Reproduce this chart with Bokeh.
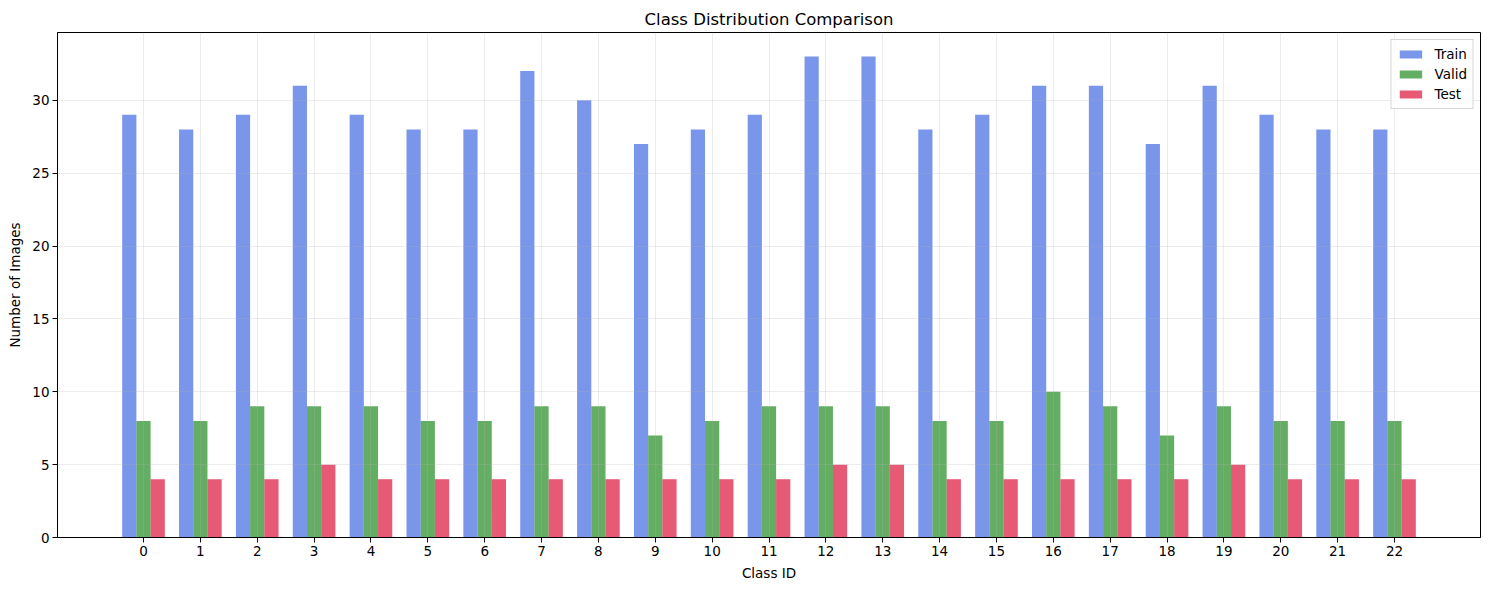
from bokeh.plotting import figure
from bokeh.models import ColumnDataSource, FixedTicker, Range1d, Legend, LegendItem
from bokeh.transform import dodge
from bokeh.embed import file_html
from bokeh.resources import INLINE

class_ids = list(range(23))
train = [29, 28, 29, 31, 29, 28, 28, 32, 30, 27, 28, 29, 33, 33, 28, 29, 31, 31, 27, 31, 29, 28, 28]
valid = [8, 8, 9, 9, 9, 8, 8, 9, 9, 7, 8, 9, 9, 9, 8, 8, 10, 9, 7, 9, 8, 8, 8]
test = [4, 4, 4, 5, 4, 4, 4, 4, 4, 4, 4, 4, 5, 5, 4, 4, 4, 4, 4, 5, 4, 4, 4]
y_ticks = [0, 5, 10, 15, 20, 25, 30]

src = ColumnDataSource(dict(cls=class_ids, train=train, valid=valid, test=test))

FONT = "DejaVu Sans"
width_bar = 0.25
xpad = (max(class_ids) - min(class_ids) + 3 * width_bar) * 0.05
x0 = min(class_ids) - 1.5 * width_bar - xpad
x1 = max(class_ids) + 1.5 * width_bar + xpad
ymax = max(train) * 1.05

p = figure(output_backend="svg", toolbar_location=None,
           frame_width=1423, frame_height=505,
           min_border_left=57, min_border_top=32, min_border_bottom=34, min_border_right=1,
           x_range=Range1d(x0, x1), y_range=Range1d(0, ymax),
           title="Class Distribution Comparison")

p.title.align = "center"
p.title.text_font = FONT
p.title.text_font_size = "16.5px"
p.title.text_font_style = "normal"
p.title.text_color = "black"
p.title.offset = 0
p.title.standoff = 8

r1 = p.vbar(x=dodge("cls", -width_bar, range=p.x_range), top="train", width=width_bar, source=src,
            fill_color="royalblue", fill_alpha=0.7, line_color=None)
r2 = p.vbar(x=dodge("cls", 0, range=p.x_range), top="valid", width=width_bar, source=src,
            fill_color="forestgreen", fill_alpha=0.7, line_color=None)
r3 = p.vbar(x=dodge("cls", width_bar, range=p.x_range), top="test", width=width_bar, source=src,
            fill_color="crimson", fill_alpha=0.7, line_color=None)

p.xaxis.ticker = FixedTicker(ticks=class_ids)
p.yaxis.ticker = FixedTicker(ticks=y_ticks)
p.xaxis.axis_label = "Class ID"
p.yaxis.axis_label = "Number of Images"
for ax in (p.xaxis, p.yaxis):
    ax.axis_label_text_font = FONT
    ax.axis_label_text_font_size = "13.5px"
    ax.axis_label_text_font_style = "normal"
    ax.axis_label_text_color = "black"
    ax.major_label_text_font = FONT
    ax.major_label_text_font_size = "13.5px"
    ax.major_label_text_color = "black"
    ax.axis_line_color = "black"
    ax.major_tick_line_color = "black"
    ax.major_tick_in = 0
    ax.major_tick_out = 5
    ax.minor_tick_line_color = None
    ax.axis_label_standoff = 6
    ax.major_label_standoff = 3

for g in (p.xgrid, p.ygrid):
    g.grid_line_color = "#b0b0b0"
    g.grid_line_alpha = 0.3
    g.grid_line_width = 0.8
    g.level = "glyph"

p.outline_line_color = "black"
p.outline_line_width = 1
p.outline_line_alpha = 1

legend = Legend(items=[LegendItem(label="Train", renderers=[r1]),
                       LegendItem(label="Valid", renderers=[r2]),
                       LegendItem(label="Test", renderers=[r3])],
                location="top_right")
legend.label_text_font = FONT
legend.label_text_font_size = "13.5px"
legend.label_text_color = "black"
legend.border_line_color = "#cccccc"
legend.border_line_alpha = 0.8
legend.background_fill_alpha = 0.8
legend.glyph_width = 28
legend.glyph_height = 10
legend.spacing = 2
legend.padding = 5
legend.margin = 7
legend.label_standoff = 10
legend.label_height = 18
p.add_layout(legend)

p.background_fill_color = "white"
p.border_fill_color = "white"

open("out.html", "w").write(file_html(p, INLINE))
